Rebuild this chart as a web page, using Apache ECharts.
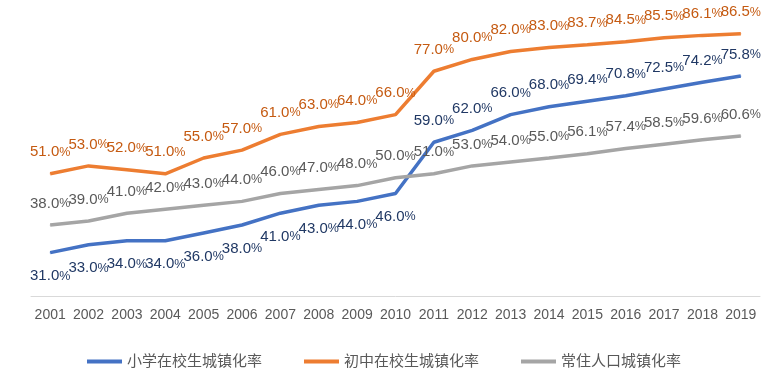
<!DOCTYPE html>
<html><head><meta charset="utf-8">
<script src="https://cdn.jsdelivr.net/npm/echarts@6/dist/echarts.min.js"></script>
<style>html,body{margin:0;padding:0;background:#fff}#c{width:768px;height:390px}</style>
</head><body><div id="c"></div>
<script>
const years = ['2001','2002','2003','2004','2005','2006','2007','2008','2009','2010','2011','2012','2013','2014','2015','2016','2017','2018','2019'];
const primary = [31.0,33.0,34.0,34.0,36.0,38.0,41.0,43.0,44.0,46.0,59.0,62.0,66.0,68.0,69.4,70.8,72.5,74.2,75.8];
const junior = [51.0,53.0,52.0,51.0,55.0,57.0,61.0,63.0,64.0,66.0,77.0,80.0,82.0,83.0,83.7,84.5,85.5,86.1,86.5];
const resident = [38.0,39.0,41.0,42.0,43.0,44.0,46.0,47.0,48.0,50.0,51.0,53.0,54.0,55.0,56.1,57.4,58.5,59.6,60.6];
const names = ['小学在校生城镇化率','初中在校生城镇化率','常住人口城镇化率'];

const font = '"Liberation Sans", Arial, "Noto Sans CJK SC", sans-serif';
function lbl(color, pos) {
  return {show:true, position:pos, distance:pos==='top'?12:14, color:color, fontFamily:font,
    formatter:p=>'{n|'+Number(p.value).toFixed(1)+'}{p|%}',
    rich:{n:{fontSize:15, lineHeight:18, color:color, fontFamily:font, verticalAlign:'middle'},
          p:{fontSize:12.5, lineHeight:18, color:color, fontFamily:font, verticalAlign:'middle'}}};
}
const chart = echarts.init(document.getElementById('c'), null, {renderer:'canvas'});
function ser(name, data, color, lblColor, posFn) {
  return {name:name, type:'line', data:data.map((v,i)=>({value:v, label:lbl(lblColor, posFn(i))})),
    symbol:'circle', symbolSize:1, showSymbol:true,
    lineStyle:{color:color, width:3.5}, itemStyle:{color:color},
    label:lbl(lblColor,'top'), labelLayout:{hideOverlap:false}};
}
chart.setOption({
  animation:false,
  grid:{left:31, right:8, top:20, bottom:94},
  xAxis:{type:'category', data:years, boundaryGap:true,
    axisLine:{lineStyle:{color:'#d9d9d9', width:1}}, axisTick:{show:false},
    axisLabel:{color:'#595959', fontSize:14, fontFamily:font, margin:12, interval:0}},
  yAxis:{type:'value', min:20, max:90, show:false, splitLine:{show:false}},
  legend:{bottom:16, left:'center', itemWidth:35, itemHeight:4, itemGap:42, icon:'rect',
    textStyle:{color:'#595959', fontSize:15, fontFamily:font},
    data:names},
  series:[
    ser(names[0], primary, '#4472C4', '#203864', i=>i<10?'bottom':'top'),
    ser(names[1], junior, '#ED7D31', '#C55A11', i=>'top'),
    ser(names[2], resident, '#A5A5A5', '#595959', i=>'top')
  ]
});
</script></body></html>
